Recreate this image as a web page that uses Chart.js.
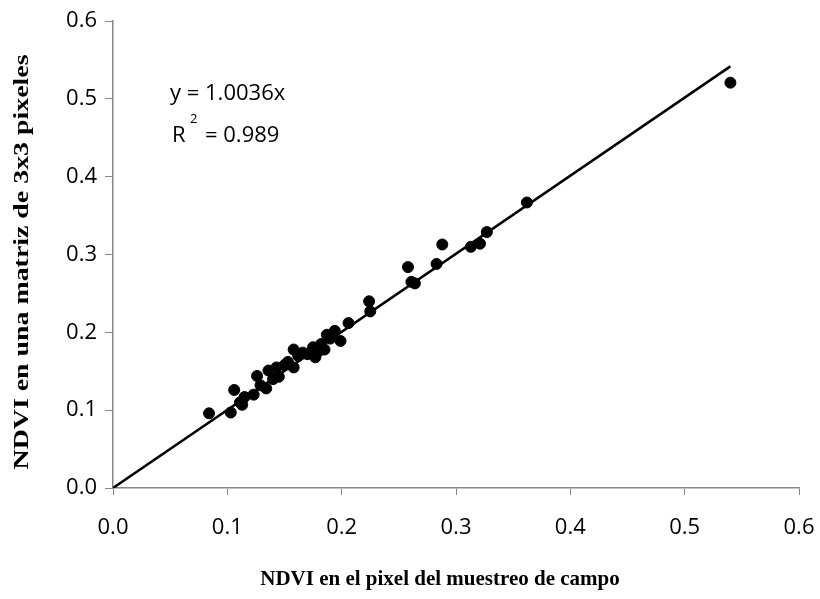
<!DOCTYPE html>
<html>
<head>
<meta charset="utf-8">
<script src="https://cdn.jsdelivr.net/npm/chart.js@4"></script>
<style>
  html, body { margin: 0; padding: 0; background: #fff; }
  #wrap { width: 820px; height: 599px; position: relative; }
</style>
</head>
<body>
<div id="wrap"><canvas id="grafico"></canvas></div>
<script>
// NDVI campo (x) vs NDVI matriz 3x3 (y)
const ndviCampo = [0.084, 0.103, 0.106, 0.113, 0.111, 0.115, 0.123, 0.126, 0.129, 0.134, 0.136, 0.140,
  0.143, 0.145, 0.150, 0.153, 0.158, 0.158, 0.162, 0.166, 0.170, 0.175, 0.177, 0.180, 0.182, 0.185,
  0.187, 0.190, 0.194, 0.199, 0.206, 0.224, 0.225, 0.258, 0.261, 0.264, 0.283, 0.288, 0.313, 0.321,
  0.327, 0.362, 0.540];
const ndviMatriz = [0.096, 0.097, 0.126, 0.107, 0.110, 0.117, 0.120, 0.144, 0.132, 0.128, 0.151, 0.140,
  0.155, 0.143, 0.158, 0.162, 0.178, 0.155, 0.170, 0.174, 0.172, 0.181, 0.168, 0.176, 0.185, 0.178,
  0.197, 0.192, 0.202, 0.189, 0.212, 0.240, 0.227, 0.284, 0.265, 0.263, 0.288, 0.313, 0.310, 0.314,
  0.329, 0.367, 0.521];
const pendiente = 1.0036;
const r2 = 0.989;
const ticksEjes = [0, 0.1, 0.2, 0.3, 0.4, 0.5, 0.6];
const tituloX = 'NDVI en el pixel del muestreo de campo';
const tituloY = 'NDVI en una matriz de 3x3 pixeles';

const puntos = ndviCampo.map((x, i) => ({ x: x, y: ndviMatriz[i] }));
const xMax = Math.max(...ndviCampo);
const recta = [0, xMax].map(x => ({ x: x, y: pendiente * x }));

const familia = '"Open Sans", Lato, sans-serif';
const fuenteTicks = { family: familia, size: 22 };
const fuenteTitulo = 'bold 21px "Liberation Serif", "Times New Roman", serif';
const gris = '#868686';

// ecuacion y titulos de los ejes (el titulo Y del original se ve estirado a lo largo)
const textos = {
  id: 'textos',
  afterDraw(chart) {
    const ctx = chart.ctx;
    ctx.save();
    ctx.fillStyle = '#000';
    ctx.textBaseline = 'middle';
    ctx.font = '22px ' + familia;
    ctx.fillText('y = ' + pendiente.toFixed(4) + 'x', 170, 94);
    ctx.fillText('R', 172, 136);
    ctx.font = '13px ' + familia;
    ctx.fillText('2', 190, 119);
    ctx.font = '22px ' + familia;
    ctx.fillText('= ' + r2.toFixed(3), 205, 136);

    ctx.font = fuenteTitulo;
    ctx.textAlign = 'center';
    ctx.fillText(tituloX, 440, 580);

    const w = ctx.measureText(tituloY).width;
    ctx.translate(23, 262);
    ctx.rotate(-Math.PI / 2);
    ctx.scale(415 / w, 1);
    ctx.fillText(tituloY, 0, 0);
    ctx.restore();
  }
};

new Chart(document.getElementById('grafico'), {
  type: 'scatter',
  data: {
    datasets: [{
      label: 'NDVI',
      data: puntos,
      backgroundColor: '#000',
      borderColor: '#000',
      borderWidth: 1,
      pointRadius: 5.5,
      pointHoverRadius: 5.5
    }, {
      label: 'Lineal',
      data: recta,
      showLine: true,
      borderColor: '#000',
      borderWidth: 2.5,
      pointRadius: 0,
      fill: false
    }]
  },
  options: {
    responsive: true,
    maintainAspectRatio: false,
    animation: false,
    layout: { padding: { left: 0, top: 13, right: 21, bottom: 0 } },
    plugins: {
      legend: { display: false },
      tooltip: { enabled: false }
    },
    scales: {
      x: {
        type: 'linear',
        min: 0,
        max: 0.6,
        afterBuildTicks: s => { s.ticks = ticksEjes.map(v => ({ value: v })); },
        afterFit: s => { s.height = 111; s.paddingLeft = 0; s.paddingRight = 0; },
        grid: { display: true, drawOnChartArea: false, drawTicks: true, tickLength: 7, color: gris },
        border: { color: gris, width: 1.5 },
        ticks: { color: '#000', font: fuenteTicks, padding: 20, maxRotation: 0, callback: v => v.toFixed(1) },
        title: { display: false }
      },
      y: {
        type: 'linear',
        min: 0,
        max: 0.6,
        afterBuildTicks: s => { s.ticks = ticksEjes.map(v => ({ value: v })); },
        afterFit: s => { s.width = 113; },
        grid: { display: true, drawOnChartArea: false, drawTicks: true, tickLength: 8, color: gris },
        border: { color: gris, width: 1.5 },
        ticks: { color: '#000', font: fuenteTicks, padding: 8, callback: v => v.toFixed(1) },
        title: { display: false }
      }
    }
  },
  plugins: [textos]
});
</script>
</body>
</html>
